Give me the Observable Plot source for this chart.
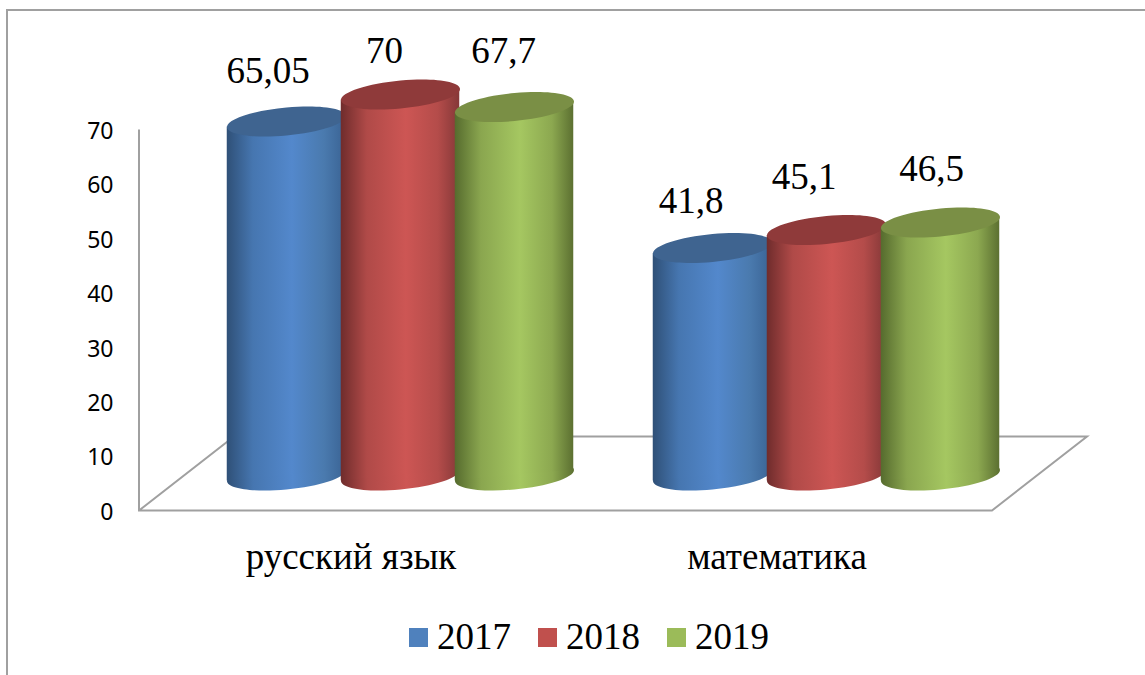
<!DOCTYPE html>
<html lang="ru">
<head>
<meta charset="utf-8">
<script src="https://cdn.jsdelivr.net/npm/d3@7"></script>
<script src="https://cdn.jsdelivr.net/npm/@observablehq/plot@0.6"></script>
<style>
  html, body { margin: 0; padding: 0; background: #fff; width: 1145px; height: 675px; overflow: hidden; }
  #frame { position: absolute; left: 6px; top: 9px; width: 1300px; height: 800px; border-left: 2px solid #a0a0a0; border-top: 2px solid #a0a0a0; }
  #chart { position: absolute; left: 0; top: 0; }
  #chart svg { display: block; }
  #legend { position: absolute; left: 409px; top: 612px; display: flex; gap: 27px; font: 37px "Liberation Serif", serif; color: #000; line-height: 50px; }
  #legend .item { display: flex; align-items: center; gap: 9px; }
  #legend .swatch { width: 19px; height: 19px; display: inline-block; }
</style>
</head>
<body>
<div id="frame"></div>
<div id="chart"></div>
<div id="legend"></div>
<script>
const subjects = ["русский язык", "математика"];
const years = ["2017", "2018", "2019"];
const values2017 = [65.05, 41.8];
const values2018 = [70, 45.1];
const values2019 = [67.7, 46.5];
const yTicks = [0, 10, 20, 30, 40, 50, 60, 70];

const series = [values2017, values2018, values2019];
const table = years.flatMap((year, j) =>
  subjects.map((subject, i) => ({subject, year, value: series[j][i], label: String(series[j][i]).replace(".", ",")}))
);

// Styling per series
const styles = {
  "2017": {id: "g2017", swatch: "#4f81bd", top: "#3f6490", stops: ["#2f5077", "#4676b0", "#5388cc", "#4a7aae", "#3a6394"]},
  "2018": {id: "g2018", swatch: "#c0504d", top: "#8f3a3a", stops: ["#6f2c2c", "#b04a48", "#cd5654", "#b44c4a", "#853838"]},
  "2019": {id: "g2019", swatch: "#9bbb59", top: "#7a8f45", stops: ["#566b2e", "#8aa64f", "#a5c761", "#8ca850", "#5c7031"]}
};

// 3D layout constants
const R = 59.5;              // half cylinder width
const yLift = -35.5;         // cylinders stand further back on the floor
const groupShift = 47;       // ... and to the right
const yearStep = 114;
const shear = -0.092;        // tilt of the ellipses
const ratio = 0.235;         // ellipse minor / major
const floorDx = 95, floorDy = -74;
const bandWidth = 853 / 2;
const inset = bandWidth / 2 - R;
const dxFor = j => groupShift + (j - 1) * yearStep;

// Per-label placement relative to the cylinder top
const labelNudge = {
  "русский язык|2017": [-18.5, -38], "русский язык|2018": [-16, -32], "русский язык|2019": [-11, -44],
  "математика|2017": [-21.5, -35], "математика|2018": [-22.5, -41], "математика|2019": [-9, -41]
};

// Sheared ellipse as a Plot dot symbol; the dot's r is the half width.
const ellipseSymbol = {
  draw(ctx, size) {
    const a = Math.sqrt(size / Math.PI), b = a * ratio, k = 0.5523;
    const p = (x, y) => [x, y + shear * x];
    ctx.moveTo(...p(a, 0));
    ctx.bezierCurveTo(...p(a, k * b), ...p(k * a, b), ...p(0, b));
    ctx.bezierCurveTo(...p(-k * a, b), ...p(-a, k * b), ...p(-a, 0));
    ctx.bezierCurveTo(...p(-a, -k * b), ...p(-k * a, -b), ...p(0, -b));
    ctx.bezierCurveTo(...p(k * a, -b), ...p(a, -k * b), ...p(a, 0));
    ctx.closePath();
  }
};

// Give the bar's top and bottom edges the tilt of the ellipses at its ends.
function tiltEnds(index, scales, values, dims, context, next) {
  const g = next(index, scales, values, dims, context);
  const tilt = Math.abs(shear) * R;
  g.querySelectorAll("rect").forEach(r => {
    const x = +r.getAttribute("x"), y = +r.getAttribute("y"),
          w = +r.getAttribute("width"), h = +r.getAttribute("height");
    const path = document.createElementNS("http://www.w3.org/2000/svg", "path");
    path.setAttribute("d", `M${x},${y + tilt}L${x + w},${y - tilt}V${y + h - tilt}L${x},${y + h + tilt}Z`);
    r.replaceWith(path);
  });
  return g;
}

const defsMark = () => {
  const defs = d3.create("svg:defs");
  const offsets = [0, 0.22, 0.55, 0.82, 1];
  for (const year of years) {
    const grad = defs.append("linearGradient").attr("id", styles[year].id)
      .attr("x1", 0).attr("x2", 1).attr("y1", 0).attr("y2", 0);
    styles[year].stops.forEach((c, i) =>
      grad.append("stop").attr("offset", offsets[i]).attr("stop-color", c));
  }
  return defs.node();
};

const floorMark = (index, {y}, values, dims) => {
  const x0 = dims.marginLeft, x1 = dims.width - dims.marginRight, y0 = y(0);
  const g = d3.create("svg:g").attr("fill", "none").attr("stroke", "#a0a0a0").attr("stroke-width", 2);
  g.append("path").attr("d",
    `M${x0},${y(yTicks[yTicks.length - 1])}V${y0}H${x1}L${x1 + floorDx},${y0 + floorDy}H${x0 + floorDx}L${x0},${y0}`);
  return g.node();
};

const cylinderMarks = years.flatMap((year, j) => {
  const rows = table.filter(d => d.year === year);
  const dx = dxFor(j);
  const st = styles[year];
  return [
    Plot.dot(rows, {x: "subject", y: () => 0, r: R, symbol: ellipseSymbol, fill: `url(#${st.id})`, stroke: "none", dx, dy: yLift}),
    Plot.barY(rows, {x: "subject", y1: () => 0, y2: "value", fill: `url(#${st.id})`, dx, dy: yLift,
      insetLeft: inset, insetRight: inset, render: tiltEnds}),
    Plot.dot(rows, {x: "subject", y: "value", r: R, symbol: ellipseSymbol, fill: st.top, stroke: "none", dx, dy: yLift})
  ];
});

const labelMarks = table.map(d => {
  const j = years.indexOf(d.year);
  const [nx, ny] = labelNudge[d.subject + "|" + d.year];
  return Plot.text([d], {x: "subject", y: "value", text: "label", dx: dxFor(j) + nx, dy: yLift + ny,
    lineAnchor: "bottom", textAnchor: "middle", fontSize: 37, fontFamily: "Liberation Serif, serif", fill: "#000"});
});

const chart = Plot.plot({
  width: 1145,
  height: 600,
  marginLeft: 139,
  marginRight: 153,
  marginTop: 100,
  marginBottom: 89,
  style: {background: "transparent", overflow: "visible"},
  x: {type: "band", domain: subjects, padding: 0},
  y: {domain: [0, 70], range: [510.5, 129.5]},
  marks: [
    defsMark,
    floorMark,
    Plot.axisY({ticks: yTicks, tickSize: 0, tickPadding: 26, dy: 1.5, fontSize: 23, fontFamily: "Noto Sans, sans-serif", fill: "#000", label: null}),
    Plot.axisX({tickSize: 0, tickPadding: 31, dx: -2.5, fontSize: 37, fontFamily: "Liberation Serif, serif", fill: "#000", label: null}),
    ...cylinderMarks,
    ...labelMarks
  ]
});
document.getElementById("chart").append(chart);

const legend = d3.select("#legend");
for (const year of years) {
  const item = legend.append("div").attr("class", "item");
  item.append("span").attr("class", "swatch").style("background", styles[year].swatch);
  item.append("span").text(year);
}
</script>
</body>
</html>
